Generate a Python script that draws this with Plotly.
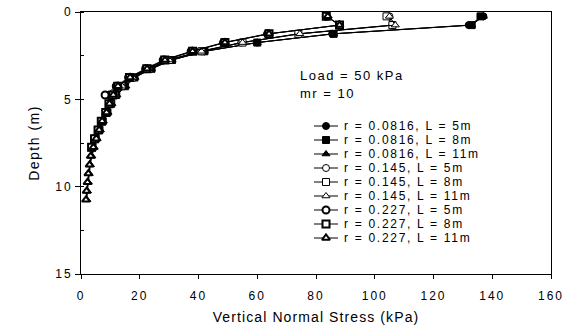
import plotly.graph_objects as go

# ---------------- data ----------------
depth_L5 = [0.25, 0.75, 1.25, 1.75, 2.25, 2.75, 3.25, 3.75, 4.25, 4.75]
depth_L8 = depth_L5 + [5.25, 5.75, 6.25, 6.75, 7.25, 7.75]
depth_L11 = depth_L8 + [8.25, 8.75, 9.25, 9.75, 10.25, 10.75]

s_0816_L5 = [137, 132, 85.5, 60, 42, 30.5, 23.5, 17.8, 13.5, 10.2]
s_0816_L8 = [136, 133, 86, 60, 42, 31, 24, 18.2, 15, 12, 10.3, 9, 7.4, 6.3, 5.0, 3.9]
s_0816_L11 = [137, 133, 86, 60, 42, 31, 24, 18.4, 15.3, 12.2, 10.5, 9.2, 7.6, 6.6, 5.5, 4.5,
              3.7, 3.2, 2.8, 2.5, 2.2, 2.0]

s_145_L5 = [105, 106, 74, 54.5, 40.5, 29.5, 22.7, 17, 12.8, 9.2]
s_145_L8 = [104, 106, 74, 55, 41, 30, 23, 17.4, 13.8, 11.4, 10, 8.6, 7.1, 6.0, 4.8, 3.7]
s_145_L11 = [105, 107, 74.5, 55, 41, 30, 23, 17.6, 14, 11.6, 10.2, 8.9, 7.3, 6.3, 5.3, 4.3,
             3.5, 3.0, 2.6, 2.3, 2.0, 1.8]

s_227_L5 = [83.5, 88, 63.5, 48.5, 37.5, 28, 22, 16.2, 12, 8.2]
s_227_L8 = [83.5, 88, 64, 49, 38, 28.5, 22.4, 16.5, 12.5, 10.8, 9.5, 8.4, 6.9, 5.8, 4.6, 3.6]
s_227_L11 = [84, 88, 64, 49, 38, 28.6, 22.5, 16.7, 12.6, 11, 9.7, 8.7, 7.2, 6.2, 5.2, 4.2,
             3.3, 2.9, 2.5, 2.2, 1.9, 1.7]

series_labels = ["r = 0.0816, L = 5m", "r = 0.0816, L = 8m", "r = 0.0816, L = 11m",
                 "r = 0.145, L = 5m", "r = 0.145, L = 8m", "r = 0.145, L = 11m",
                 "r = 0.227, L = 5m", "r = 0.227, L = 8m", "r = 0.227, L = 11m"]
series_values = [s_0816_L5, s_0816_L8, s_0816_L11,
                 s_145_L5, s_145_L8, s_145_L11,
                 s_227_L5, s_227_L8, s_227_L11]
series_depths = [depth_L5, depth_L8, depth_L11] * 3

x_ticks = [0, 20, 40, 60, 80, 100, 120, 140, 160]
y_ticks = [0, 5, 10, 15]
note_lines = ["Load = 50 kPa", "mr = 10"]

# ---------------- styles ----------------
symbols = ["circle", "square", "triangle-up"] * 3
fills = ["black"] * 3 + ["white"] * 6
outline = [1] * 3 + [1] * 3 + [2] * 3

FONT = "Liberation Sans, Arial, sans-serif"


def spaced(t, sp):
    return '<span style="letter-spacing:%spx">%s</span>' % (sp, t)


fig = go.Figure()

for vals, deps, sym, fc, lw in zip(series_values, series_depths, symbols, fills, outline):
    fig.add_trace(go.Scatter(
        x=vals, y=deps, mode="lines+markers",
        line=dict(color="black", width=1),
        marker=dict(symbol=sym, size=7, color=fc, line=dict(color="black", width=lw)),
        showlegend=False, hoverinfo="skip"))

# ---------------- manual legend (own small axes) ----------------
rows = list(range(len(series_labels)))
lx, ly = [], []
for r in rows:
    lx += [0, 1, None]
    ly += [r, r, None]
fig.add_trace(go.Scatter(x=lx, y=ly, mode="lines", xaxis="x2", yaxis="y2",
                         line=dict(color="black", width=1), showlegend=False, hoverinfo="skip"))
fig.add_trace(go.Scatter(x=[0.5] * len(rows), y=rows, mode="markers", xaxis="x2", yaxis="y2",
                         marker=dict(symbol=symbols, size=7, color=fills,
                                     line=dict(color="black", width=outline)),
                         showlegend=False, hoverinfo="skip"))

W, H = 575, 331
ML, MR, MT, MB = 81, 24, 12, 57
PW, PH = W - ML - MR, H - MT - MB


def px_x(p):
    return (p - ML) / PW


def px_y(p):
    return (H - MB - p) / PH


row0, rstep = 126, 14.0
annotations = []
for r, lab in zip(rows, series_labels):
    annotations.append(dict(x=1, y=r, xref="x2", yref="y2", xanchor="left", yanchor="middle",
                            xshift=4, showarrow=False, text=spaced(lab, 1.7),
                            font=dict(family=FONT, size=12, color="black")))
for i, t in enumerate(note_lines):
    annotations.append(dict(x=px_x(298), y=px_y(75 + 18 * i), xref="paper", yref="paper",
                            xanchor="left", yanchor="middle", showarrow=False,
                            text=spaced(t, 1.5), font=dict(family=FONT, size=13, color="black")))

fig.update_layout(
    width=W, height=H,
    margin=dict(l=ML, r=MR, t=MT, b=MB, pad=0),
    paper_bgcolor="white", plot_bgcolor="white",
    font=dict(family=FONT, color="black"),
    xaxis=dict(range=[0, 160], tickvals=x_ticks, ticktext=[spaced(str(v), 2) for v in x_ticks],
               ticks="outside", ticklen=4, tickcolor="black", showline=True, linecolor="black",
               linewidth=1, mirror=True, showgrid=False, zeroline=False, ticklabelstandoff=7,
               automargin=False,
               tickfont=dict(size=12, family=FONT, color="black"),
               title=dict(text=spaced("Vertical Normal Stress (kPa)", 1.1), standoff=9,
                          font=dict(size=14, family=FONT, color="black"))),
    yaxis=dict(range=[15, 0], tickvals=y_ticks, ticktext=[spaced(str(v), 2) for v in y_ticks],
               ticks="outside", ticklen=5, tickcolor="black", showline=True, linecolor="black",
               linewidth=1, mirror=True, showgrid=False, zeroline=False, automargin=False,
               minor=dict(ticks="inside", ticklen=3, dtick=2.5, tickcolor="black", showgrid=False),
               tickfont=dict(size=12, family=FONT, color="black"),
               title=dict(text=spaced("Depth (m)", 1.5), standoff=12,
                          font=dict(size=14, family=FONT, color="black"))),
    xaxis2=dict(domain=[px_x(314), px_x(338)], range=[0, 1], visible=False, anchor="y2"),
    yaxis2=dict(domain=[px_y(row0 + rstep * 8.5), px_y(row0 - rstep * 0.5)],
                range=[8.5, -0.5], visible=False, anchor="x2"),
    annotations=annotations,
)

fig.write_html("out.html")
